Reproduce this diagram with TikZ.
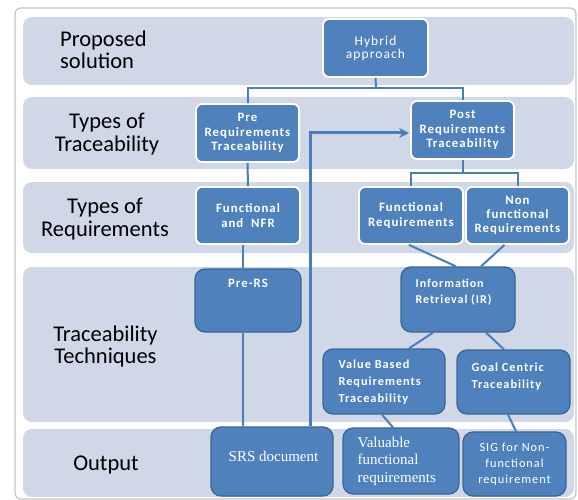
\documentclass[tikz,border=0pt]{standalone}
\usepackage{fontspec}
\setmainfont{Carlito}
\newfontfamily\boxf[LetterSpace=8]{Carlito}
\newfontfamily\serf{Liberation Serif}
\usetikzlibrary{arrows.meta}
\definecolor{bandc}{HTML}{D0D8E8}
\definecolor{boxc}{HTML}{4F81BD}
\definecolor{boxdk}{HTML}{3A6496}
\definecolor{linec}{HTML}{4A7DBA}
\definecolor{framec}{HTML}{C4C4C4}
\begin{document}
\begin{tikzpicture}[x=1pt,y=-1pt,
  band/.style={fill=bandc, rounded corners=9pt},
  rowlbl/.style={inner sep=0pt, align=center, font=\fontsize{22.5}{22.5}\selectfont, text=black},
  upbox/.style={draw=white, line width=1.8pt, fill=boxc, rounded corners=6pt, text=white,
    align=center, inner sep=0pt, font=\boxf\bfseries\fontsize{12.8}{14.2}\selectfont},
  lowbox/.style={draw=boxdk, line width=1.2pt, fill=boxc, rounded corners=10pt, text=white,
    align=center, inner sep=0pt},
  intext/.style={text=white, inner sep=0pt, align=left, anchor=north west},
  conn/.style={draw=linec, line width=2pt},
  arr/.style={draw=linec, line width=3pt, -{Stealth[length=10pt,width=10pt,inset=3pt]}}
]
\useasboundingbox (0,0) rectangle (578,500);
% window frame
\draw[framec, line width=1.2pt, fill=white, rounded corners=6pt] (15,8) rectangle (576,499);
% bands
\fill[band] (23,17) rectangle (574,85);
\fill[band] (23,97) rectangle (574,169);
\fill[band] (23,182) rectangle (574,253);
\fill[band] (23,267) rectangle (574,422);
\fill[band] (23,429) rectangle (574,497);
% row labels
\node[rowlbl, align=left, anchor=west] (lp) at (60,50) {Proposed\\solution};
\node[rowlbl] (lt) at (107,134) {Types of\\Traceability};
\node[rowlbl] (lr) at (105,219) {Types of\\Requirements};
\node[rowlbl] (lq) at (105.5,346.5) {Traceability\\Techniques};
\node[rowlbl] (lo) at (106,465.5) {Output};
% boxes
\node[upbox, minimum width=105pt, minimum height=58pt,
  font=\boxf\fontsize{13.5}{13}\selectfont] (hyb) at (375.5,48) {Hybrid\\approach};
\node[upbox, minimum width=103pt, minimum height=58pt] (pre) at (247.5,133) {Pre\\Requirements\\Traceability};
\node[upbox, minimum width=103pt, minimum height=58pt] (post) at (462.5,130) {Post\\Requirements\\Traceability};
\node[upbox, minimum width=104pt, minimum height=57pt] (fnfr) at (248,215.5) {Functional\\and~ NFR};
\node[upbox, minimum width=104pt, minimum height=57pt] (fr) at (411,215.5) {Functional\\Requirements};
\node[upbox, minimum width=103pt, minimum height=57pt] (nfr) at (517.5,215.5) {Non\\functional\\Requirements};
\node[lowbox, minimum width=106pt, minimum height=63pt,
  label={[intext, anchor=north, yshift=-11pt, font=\boxf\bfseries\fontsize{12.8}{14}\selectfont]north:Pre-RS}] (prers) at (248,300.5) {};
\node[lowbox, minimum width=114pt, minimum height=65pt,
  label={[intext, xshift=15pt, yshift=-12pt, font=\boxf\bfseries\fontsize{12}{16}\selectfont]north west:{Information\\Retrieval (IR)}}] (ir) at (458,299.5) {};
\node[lowbox, minimum width=122pt, minimum height=65pt,
  label={[intext, xshift=16pt, yshift=-11pt, font=\boxf\bfseries\fontsize{12.3}{17}\selectfont]north west:{Value Based\\Requirements\\Traceability}}] (vbrt) at (384,381.5) {};
\node[lowbox, minimum width=113pt, minimum height=64pt,
  label={[intext, xshift=15pt, yshift=-13pt, font=\boxf\bfseries\fontsize{12.3}{17}\selectfont]north west:{Goal Centric\\Traceability}}] (gct) at (513.5,382) {};
\node[lowbox, minimum width=122pt, minimum height=69pt,
  label={[text=white, inner sep=0pt, xshift=1.5pt, yshift=5.5pt, font=\serf\fontsize{15}{17}\selectfont]center:SRS document}] (srs) at (272,461.5) {};
\node[lowbox, minimum width=116pt, minimum height=66pt,
  label={[intext, xshift=15pt, yshift=-9pt, font=\serf\fontsize{15}{17.5}\selectfont]north west:{Valuable\\functional\\requirements}}] (val) at (401,461) {};
\node[lowbox, minimum width=103pt, minimum height=64pt,
  font=\boxf\fontsize{12.3}{16}\selectfont] (sig) at (514.5,464) {SIG for Non-\\functional\\requirement};
% connectors
\coordinate (hj) at (376,88);
\coordinate (pj) at (462.5,173);
\draw[conn] (hyb.south) -- (hj);
\draw[conn] (pre.north) |- (hj) -| (post.north);
\draw[conn] (pre.south) -- (fnfr.north);
\draw[conn] (post.south) -- (pj);
\draw[conn] (fr.north) |- (pj) -| (nfr.north);
\draw[conn] ([xshift=-5pt]fnfr.south) -- ([xshift=-5pt]prers.north);
\draw[conn] ([xshift=-5pt]prers.south) -- ([xshift=-5pt]prers.south |- srs.north);
\draw[conn] ([xshift=-2pt]fr.south) -- ([xshift=-2pt]ir.north);
\draw[conn] ([xshift=-13pt]nfr.south) -- ([xshift=23pt]ir.north);
\draw[conn] ([xshift=-25pt]ir.south) -- ([xshift=25pt]vbrt.north);
\draw[conn] ([xshift=28pt]ir.south) -- ([xshift=-9.5pt]gct.north);
\draw[conn] ([xshift=-2pt]vbrt.south) -- ([xshift=-8pt]val.north);
\draw[conn] ([xshift=-5.5pt]gct.south) -- ([xshift=1.5pt]sig.north);
\draw[arr] ([xshift=38pt]srs.north) |- ([xshift=-1pt,yshift=-3pt]post.west);
\end{tikzpicture}
\end{document}
